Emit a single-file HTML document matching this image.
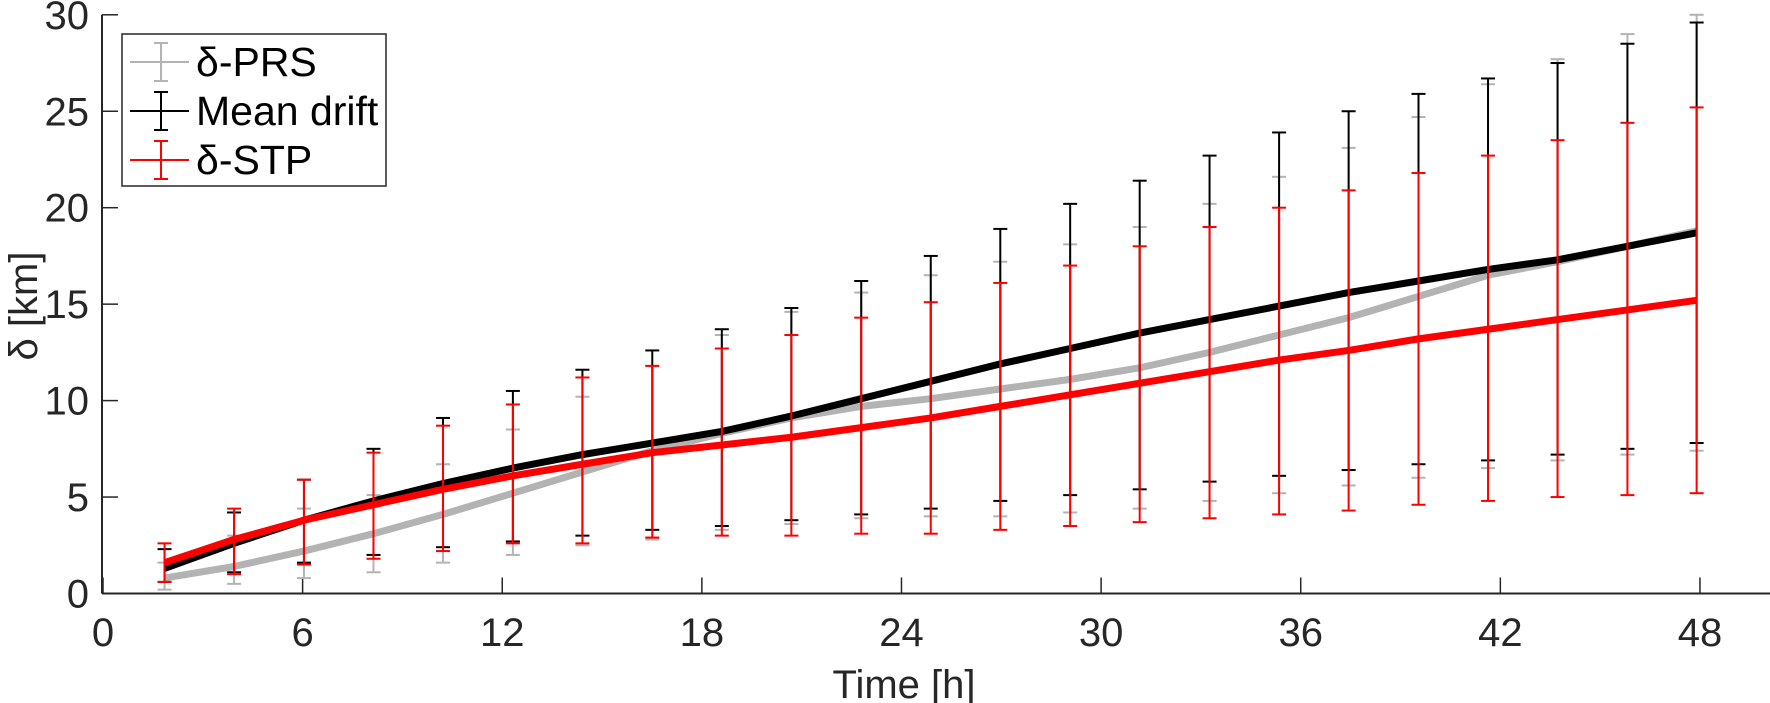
<!DOCTYPE html>
<html><head><meta charset="utf-8"><style>
html,body{margin:0;padding:0;background:#fff;}
svg{display:block;font-family:"Liberation Sans",Arial,sans-serif;}
</style></head><body>
<svg id="chart" width="1770" height="703" viewBox="0 0 1770 703" xmlns="http://www.w3.org/2000/svg">
<g id="axes"></g>
<g id="series"></g>
<g id="legend"></g>
</svg>
<script>
const times=[1.85,3.94,6.04,8.13,10.22,12.32,14.41,16.51,18.6,20.69,22.79,24.88,26.97,29.07,31.16,33.26,35.35,37.44,39.54,41.63,43.72,45.82,47.9];
const prsMean=[0.8,1.4,2.2,3.1,4.1,5.2,6.3,7.4,8.3,9.1,9.7,10.1,10.6,11.1,11.7,12.5,13.4,14.3,15.4,16.5,17.2,18.0,18.8];
const prsUpper=[1.6,3.0,4.4,5.1,6.7,8.5,10.2,11.8,13.4,14.6,15.6,16.5,17.2,18.1,19.0,20.2,21.6,23.1,24.7,26.4,27.7,29.0,30.0];
const prsLower=[0.2,0.5,0.8,1.1,1.6,2.0,2.5,2.8,3.3,3.6,3.9,4.0,4.0,4.2,4.4,4.8,5.2,5.6,6.0,6.5,6.9,7.2,7.4];
const driftMean=[1.3,2.6,3.8,4.8,5.7,6.5,7.2,7.8,8.4,9.2,10.1,11.0,11.9,12.7,13.5,14.2,14.9,15.6,16.2,16.8,17.3,18.0,18.7];
const driftUpper=[2.3,4.2,5.9,7.5,9.1,10.5,11.6,12.6,13.7,14.8,16.2,17.5,18.9,20.2,21.4,22.7,23.9,25.0,25.9,26.7,27.5,28.5,29.6];
const driftLower=[0.6,1.1,1.6,2.0,2.4,2.7,3.0,3.3,3.5,3.8,4.1,4.4,4.8,5.1,5.4,5.8,6.1,6.4,6.7,6.9,7.2,7.5,7.8];
const stpMean=[1.6,2.8,3.8,4.6,5.4,6.1,6.7,7.3,7.7,8.1,8.6,9.1,9.7,10.3,10.9,11.5,12.1,12.6,13.2,13.7,14.2,14.7,15.2];
const stpUpper=[2.6,4.4,5.9,7.3,8.7,9.8,11.2,11.8,12.7,13.4,14.3,15.1,16.1,17.0,18.0,19.0,20.0,20.9,21.8,22.7,23.5,24.4,25.2];
const stpLower=[0.6,1.0,1.5,1.8,2.2,2.6,2.6,2.9,3.0,3.0,3.1,3.1,3.3,3.5,3.7,3.9,4.1,4.3,4.6,4.8,5.0,5.1,5.2];
const xTicks=[0,6,12,18,24,30,36,42,48];
const yTicks=[0,5,10,15,20,25,30];

const NS="http://www.w3.org/2000/svg";
const X=t=>103+33.27*t;
const Y=v=>593.5-19.29*v;
const axisLeft=102, axisBottom=593.5, axisRight=1770, axisTop=14.7;
function mk(tag,attrs,parent){const e=document.createElementNS(NS,tag);for(const k in attrs)e.setAttribute(k,attrs[k]);parent.appendChild(e);return e;}
const axes=document.getElementById('axes');
const series=document.getElementById('series');
const legend=document.getElementById('legend');
const AX="#262626";

let l=mk('line',{x1:axisLeft,y1:axisBottom,x2:axisRight,y2:axisBottom,stroke:AX,'stroke-width':2},axes);


l=mk('line',{x1:axisLeft,y1:axisBottom,x2:axisLeft,y2:axisTop,stroke:AX,'stroke-width':2},axes);



xTicks.forEach(t=>{
  const tk=mk('line',{x1:X(t),y1:axisBottom,x2:X(t),y2:axisBottom-16,stroke:AX,'stroke-width':1.5},axes);
  
  
  const tx=mk('text',{x:X(t),y:646,'text-anchor':'middle','font-size':40,fill:AX},axes);
  tx.textContent=t;
  
  
});
yTicks.forEach(v=>{
  const tk=mk('line',{x1:axisLeft,y1:Y(v),x2:axisLeft+16,y2:Y(v),stroke:AX,'stroke-width':1.5},axes);
  
  
  const tx=mk('text',{x:89,y:Y(v)+14,'text-anchor':'end','font-size':40,fill:AX},axes);
  tx.textContent=v;
  
  
});
let t=mk('text',{x:904,y:698,'text-anchor':'middle','font-size':40,fill:AX},axes);
t.textContent='Time [h]';


t=mk('text',{x:0,y:0,'text-anchor':'middle','font-size':40,fill:AX,transform:'translate(37,306) rotate(-90)'},axes);
t.textContent='δ [km]';



function drawSeries(name,color,mean,up,lo){
  const g=mk('g',{},series);
  
  
  times.forEach((tt,i)=>{
    const x=X(tt);
    const b=mk('line',{x1:x,y1:Y(lo[i]),x2:x,y2:Y(up[i]),stroke:color,'stroke-width':2},g);
    
    
    [up[i],lo[i]].forEach(v=>{
      const c=mk('line',{x1:x-7,y1:Y(v),x2:x+7,y2:Y(v),stroke:color,'stroke-width':2},g);
      
      
    });
  });
  const p=mk('polyline',{points:times.map((tt,i)=>X(tt)+','+Y(mean[i])).join(' '),fill:'none',stroke:color,'stroke-width':7,'stroke-linejoin':'round'},g);
  
  
}
drawSeries('prs','#b3b3b3',prsMean,prsUpper,prsLower);
drawSeries('mean-drift','#000000',driftMean,driftUpper,driftLower);
drawSeries('stp','#ff0000',stpMean,stpUpper,stpLower);

let box=mk('rect',{x:122,y:34,width:264,height:152,fill:'#fff',stroke:AX,'stroke-width':1.5},legend);


[['δ-PRS','#b3b3b3',62],['Mean drift','#000000',111],['δ-STP','#ff0000',160]].forEach(([lab,col,y])=>{
  const g=mk('g',{},legend);
  
  
  mk('line',{x1:130,y1:y,x2:189,y2:y,stroke:col,'stroke-width':2},g);
  mk('line',{x1:161,y1:y-19,x2:161,y2:y+19,stroke:col,'stroke-width':2},g);
  mk('line',{x1:154,y1:y-19,x2:168,y2:y-19,stroke:col,'stroke-width':2},g);
  mk('line',{x1:154,y1:y+19,x2:168,y2:y+19,stroke:col,'stroke-width':2},g);
  const tx=mk('text',{x:196,y:y+14,'font-size':41,fill:'#000'},g);
  tx.textContent=lab;
});
</script>
</body></html>
